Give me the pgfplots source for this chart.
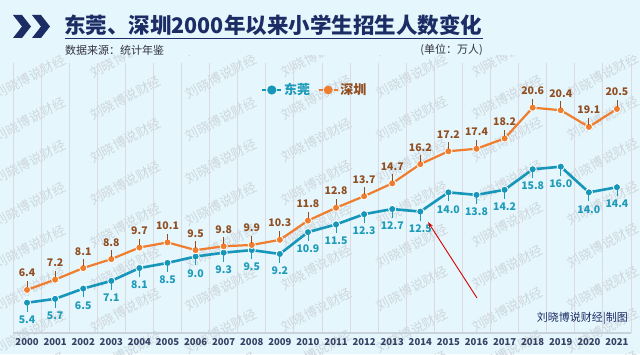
\documentclass[border=0pt]{standalone}
\usepackage{fontspec}
\setmainfont{Noto Sans CJK SC}
\usepackage{pgfplots}
\usepackage{pgfplotstable}
\pgfplotsset{compat=1.18}
\usetikzlibrary{arrows.meta}
\definecolor{bg}{RGB}{229,246,253}
\definecolor{wm}{RGB}{206,215,221}
\definecolor{navy}{RGB}{27,45,100}
\definecolor{dgc}{RGB}{22,150,185}
\definecolor{dgl}{RGB}{30,155,185}
\definecolor{szc}{RGB}{240,125,45}
\definecolor{szl}{RGB}{145,78,32}
\definecolor{gridc}{RGB}{218,218,224}
\definecolor{axc}{RGB}{200,210,220}
\definecolor{tickc}{RGB}{55,65,100}
\definecolor{subc}{RGB}{50,50,65}

\pgfplotstableread{
year dg sz
0 5.4 6.4
1 5.7 7.2
2 6.5 8.1
3 7.1 8.8
4 8.1 9.7
5 8.5 10.1
6 9.0 9.5
7 9.3 9.8
8 9.5 9.9
9 9.2 10.3
10 10.9 11.8
11 11.5 12.8
12 12.3 13.7
13 12.7 14.7
14 12.5 16.2
15 14.0 17.2
16 13.8 17.4
17 14.2 18.2
18 15.8 20.6
19 16.0 20.4
20 14.0 19.1
21 14.4 20.5
}\data

\begin{document}
\begin{tikzpicture}[x=1pt,y=1pt]
\fill[bg] (0,0) rectangle (640,354);
% watermark
\begin{scope}
\clip (0,0) rectangle (640,298);
\foreach \i in {0,...,6}{
  \foreach \j in {-4,...,7}{
    \pgfmathsetmacro\wx{30+95.5*\i}
    \pgfmathsetmacro\wy{354-(77+21*\i+42.5*\j)}
    \node[rotate=28, text=wm, font=\fontsize{13}{13}\selectfont, inner sep=0] at (\wx,\wy) {刘晓博说财经};
  }
}
\end{scope}

\begin{axis}[
  at={(13pt,21pt)}, anchor=south west, scale only axis,
  width=618pt, height=270pt,
  xmin=-0.5, xmax=21.5, ymin=3.04, ymax=24.08,
  axis x line*=bottom, axis y line=none,
  x axis line style={axc, line width=1.5pt, -},
  ytick=\empty,
  xtick={0,...,21},
  xticklabels={2000,2001,2002,2003,2004,2005,2006,2007,2008,2009,2010,2011,2012,2013,2014,2015,2016,2017,2018,2019,2020,2021},
  minor xtick={-0.5,0.5,...,21.5},
  xminorgrids=true,
  minor grid style={gridc, line width=0.9pt},
  major tick length=0pt, minor tick length=0pt,
  xticklabel style={font=\bfseries\fontsize{9.5}{10}\selectfont, text=tickc, yshift=-2pt},
  clip=false,
  legend style={at={(0.4887,0.9)}, anchor=center, draw=none, fill=none,
    legend columns=2, font=\bfseries\fontsize{13}{14}\selectfont,
    /tikz/every even column/.append style={column sep=6pt}},
  every node near coord/.append style={inner sep=0pt, font=\bfseries\fontsize{10.5}{11}\selectfont},
]
\addplot[dgc, line width=2.6pt, mark=*, mark size=3.6pt,
  mark options={fill=dgc, draw=white, line width=0.8pt},
  nodes near coords={\shortstack{\rule{0.8pt}{6.5pt}\\[1pt]\pgfmathprintnumber[fixed,fixed zerofill,precision=1,assume math mode=true]{\pgfplotspointmeta}}},
  every node near coord/.append style={anchor=north, yshift=-2pt, text=dgl},
  legend image code/.code={\draw[dgc,line width=1.4pt] (0pt,0pt)--(4pt,0pt) (15pt,0pt)--(19pt,0pt); \fill[dgc] (9.5pt,0pt) circle (3.2pt);}
] table[x=year,y=dg] {\data};
\addlegendentry{\textcolor{dgl}{东莞}}
\addplot[szc, line width=2.2pt, mark=*, mark size=3.6pt,
  mark options={fill=szc, draw=white, line width=0.8pt},
  nodes near coords={\shortstack{\pgfmathprintnumber[fixed,fixed zerofill,precision=1,assume math mode=true]{\pgfplotspointmeta}\\[1pt]\rule{0.8pt}{6.5pt}}},
  every node near coord/.append style={anchor=south, yshift=2pt, text=szl},
  legend image code/.code={\draw[szc,line width=1.4pt] (0pt,0pt)--(4pt,0pt) (15pt,0pt)--(19pt,0pt); \fill[szc] (9.5pt,0pt) circle (3.2pt);}
] table[x=year,y=sz] {\data};
\addlegendentry{\textcolor{szl}{深圳}}
\end{axis}

% header
\fill[navy] (13,339) -- (22,339) -- (31,327.5) -- (22,316) -- (13,316) -- (22,327.5) -- cycle;
\fill[navy] (32,339) -- (41,339) -- (50,327.5) -- (41,316) -- (32,316) -- (41,327.5) -- cycle;
\node[anchor=west, inner sep=0, text=navy, font=\bfseries\fontsize{21.5}{22}\selectfont] at (64,329) {东莞、深圳2000年以来小学生招生人数变化};
\draw[navy, line width=1.5pt] (65,315.5) -- (483,315.5);
\node[anchor=west, inner sep=0, text=subc, font=\fontsize{11}{12}\selectfont] at (65,304) {数据来源：统计年鉴};
\node[anchor=east, inner sep=0, text=subc, font=\fontsize{11}{12}\selectfont] at (483,304) {(单位：万人)};
% credit
\node[anchor=east, inner sep=0, text=navy, font=\fontsize{11}{12}\selectfont] at (628,36) {刘晓博说财经|制图};
% red arrow
\draw[red!85!black, line width=0.9pt, -{Stealth[length=6pt,width=4pt]}] (477,56) -- (428,132);

\pgfresetboundingbox
\path (0,0) rectangle (640,354);
\end{tikzpicture}
\end{document}
